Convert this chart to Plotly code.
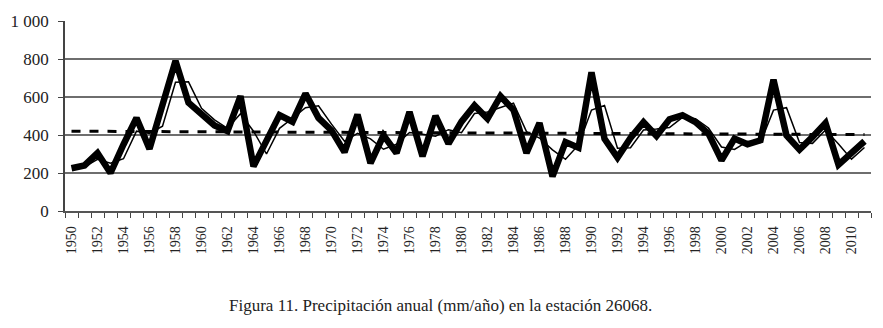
import plotly.graph_objects as go

years = list(range(1950, 2012))
annual = [225, 240, 305, 200, 350, 490, 327, 565, 790, 570,
          510, 450, 420, 605, 235, 365, 505, 470, 618, 490,
          424, 310, 508, 252, 398, 305, 521, 288, 500, 355,
          470, 556, 486, 604, 532, 305, 463, 182, 363, 333,
          730, 380, 281, 385, 468, 395, 483, 504, 468, 407,
          267, 381, 351, 372, 691, 398, 323, 390, 463, 244,
          302, 367]
ma_years = list(range(1951, 2012))
moving_avg = [232, 272, 252, 275, 420, 408, 446, 678, 680,
              540, 480, 435, 512, 420, 300, 435, 488, 544, 554,
              457, 367, 409, 380, 325, 351, 413, 404, 394, 428,
              412, 513, 521, 545, 568, 418, 384, 322, 272, 348,
              531, 555, 330, 333, 426, 431, 439, 493, 486, 437,
              337, 324, 366, 361, 531, 544, 360, 356, 426, 353,
              273, 334]
trend_years = [1950, 2011]
trend_vals = [420, 402]
y_ticks = [0, 200, 400, 600, 800, 1000]
y_labels = ["0", "200", "400", "600", "800", "1 000"]
x_ticks = list(range(1950, 2012, 2))
caption = "Figura 11. Precipitación anual (mm/año) en la estación 26068."

font = "Liberation Serif"

fig = go.Figure()
fig.add_trace(go.Scatter(x=years, y=annual, mode="lines",
                         line=dict(color="black", width=6.5), showlegend=False))
fig.add_trace(go.Scatter(x=ma_years, y=moving_avg, mode="lines",
                         line=dict(color="black", width=1.5), showlegend=False))
fig.add_trace(go.Scatter(x=trend_years, y=trend_vals, mode="lines",
                         line=dict(color="black", width=3, dash="dash"), showlegend=False))

fig.update_layout(
    width=875, height=320,
    margin=dict(l=57, r=12, t=13, b=117),
    paper_bgcolor="white", plot_bgcolor="white",
    font=dict(family=font, color="#222", size=14),
    xaxis=dict(range=[1949.5, 2011.5], tickvals=x_ticks,
               ticktext=[str(v) for v in x_ticks], tickangle=-90,
               tickfont=dict(size=14, family=font, color="#222"),
               ticklabelstandoff=8, automargin=False,
               showgrid=False, zeroline=False, ticks="", ticklen=0,
               minor=dict(tick0=1949.5, dtick=1, ticks="outside", ticklen=5,
                          tickcolor="#444", tickwidth=1.2, showgrid=False),
               showline=True, linecolor="#555", linewidth=1.5),
    yaxis=dict(range=[0, 1000], tickvals=y_ticks, ticktext=y_labels,
               tickfont=dict(size=17, family=font, color="#222"),
               ticklabelstandoff=6, automargin=False,
               showgrid=True, gridcolor="#6e6e6e", gridwidth=1.5,
               zeroline=False, ticks="outside", ticklen=5, tickcolor="#444",
               showline=True, linecolor="#444", linewidth=1.5),
    annotations=[dict(text=caption, xref="paper", yref="paper",
                      x=0.4665, y=-0.495, xanchor="center", yanchor="middle",
                      showarrow=False, font=dict(size=17, family=font, color="#222"))],
)

fig.write_html("out.html")
